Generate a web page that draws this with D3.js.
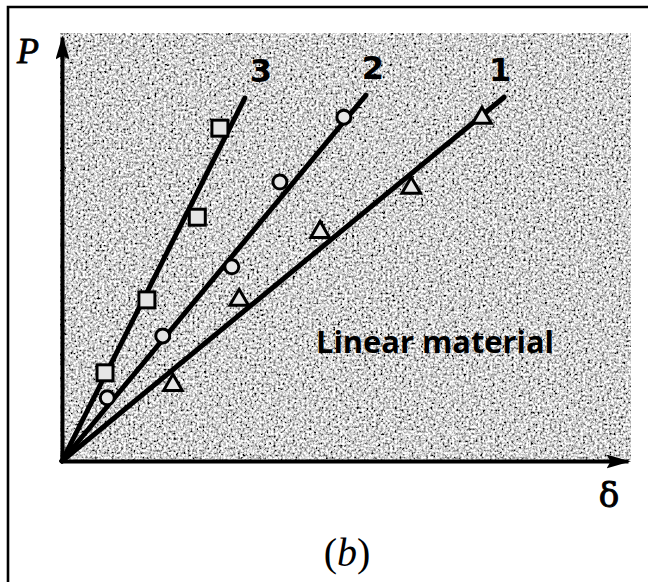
<!DOCTYPE html>
<html>
<head>
<meta charset="utf-8">
<script src="https://cdn.jsdelivr.net/npm/d3@7"></script>
<style>
  html, body { margin: 0; padding: 0; background: #fff; }
  svg { display: block; }
</style>
</head>
<body>
<svg id="chart" width="648" height="582"></svg>
<script>
// Values (delta / P in arbitrary units, 0..10)
var seriesNames = ['1', '2', '3'];

var tri1Delta = [1.96, 3.13, 4.56, 6.17, 7.42];
var tri1P = [1.79, 3.80, 5.40, 6.44, 8.09];

var circ2Delta = [0.80, 1.78, 3.00, 3.85, 4.98];
var circ2P = [1.49, 2.95, 4.58, 6.58, 8.11];

var sq3Delta = [0.76, 1.50, 2.39, 2.79];
var sq3P = [2.08, 3.80, 5.75, 7.85];

// fitted straight lines, drawn from the origin to these ends
var lineEndDelta = [7.81, 5.37, 3.23];
var lineEndP = [8.58, 8.63, 8.56];

var svg = d3.select('#chart');

var x = d3.scaleLinear().domain([0, 10]).range([62, 628]);
var y = d3.scaleLinear().domain([0, 10]).range([461, 37]);

var defs = svg.append('defs');

// speckled grey background like the scanned screen tone
var grain = defs.append('filter')
  .attr('id', 'grain')
  .attr('x', 0).attr('y', 0).attr('width', '100%').attr('height', '100%');
grain.append('feTurbulence')
  .attr('type', 'fractalNoise')
  .attr('baseFrequency', 0.42)
  .attr('numOctaves', 2)
  .attr('seed', 7);
grain.append('feColorMatrix').attr('type', 'saturate').attr('values', 0);
var ct = grain.append('feComponentTransfer');
['feFuncR', 'feFuncG', 'feFuncB'].forEach(function(f) {
  ct.append(f).attr('type', 'linear').attr('slope', 3.2).attr('intercept', -0.95);
});
ct.append('feFuncA').attr('type', 'linear').attr('slope', 0).attr('intercept', 1);

// thin solid arrowhead, sized in user units
defs.append('marker')
  .attr('id', 'arrow')
  .attr('viewBox', '0 0 24 14')
  .attr('refX', 22).attr('refY', 7)
  .attr('markerWidth', 24).attr('markerHeight', 14)
  .attr('markerUnits', 'userSpaceOnUse')
  .attr('orient', 'auto')
  .append('path')
  .attr('d', 'M0,0 L24,7 L0,14 L4,7 Z')
  .attr('fill', '#000');

// frame (left and top edges visible)
svg.append('path')
  .attr('d', 'M8,582 V7 H648')
  .attr('fill', 'none')
  .attr('stroke', '#000')
  .attr('stroke-width', 2.6);

// stippled plot area
svg.append('rect')
  .attr('x', x(0) - 2)
  .attr('y', y(0) - 428)
  .attr('width', 571)
  .attr('height', 429)
  .attr('filter', 'url(#grain)');

// axes with no ticks, arrow at the end
var xAxis = svg.append('g')
  .attr('transform', 'translate(0,' + y(0) + ')')
  .call(d3.axisBottom(x).ticks(0).tickSizeOuter(0));
var yAxis = svg.append('g')
  .attr('transform', 'translate(' + x(0) + ',0)')
  .call(d3.axisLeft(y).ticks(0).tickSizeOuter(0));

[xAxis, yAxis].forEach(function(ax) {
  ax.select('.domain')
    .attr('stroke', '#000')
    .attr('stroke-width', 4)
    .attr('marker-end', 'url(#arrow)');
});

// straight lines from origin
var lineGen = d3.line().x(d => x(d[0])).y(d => y(d[1]));
seriesNames.forEach(function(name, i) {
  svg.append('path')
    .attr('d', lineGen([[0, 0], [lineEndDelta[i], lineEndP[i]]]))
    .attr('fill', 'none')
    .attr('stroke', '#000')
    .attr('stroke-width', 5)
    .attr('stroke-linecap', 'round');
});

// series labels above line ends
var labelDx = [-4, 7, 16];
seriesNames.forEach(function(name, i) {
  svg.append('text')
    .attr('x', x(lineEndDelta[i]) + labelDx[i])
    .attr('y', y(lineEndP[i]) - 16)
    .attr('text-anchor', 'middle')
    .attr('font-family', 'DejaVu Sans, sans-serif')
    .attr('font-weight', 'bold')
    .attr('font-size', 32)
    .attr('fill', '#000')
    .text(name);
});

var markerStyle = function(sel) {
  sel.attr('fill', '#e6e6e6').attr('stroke', '#000').attr('stroke-width', 3);
};

// triangles, series 1
svg.append('g').selectAll('path')
  .data(d3.zip(tri1Delta, tri1P))
  .enter()
  .append('path')
  .attr('d', d3.symbol().type(d3.symbolTriangle).size(150))
  .attr('transform', d => 'translate(' + x(d[0]) + ',' + y(d[1]) + ')')
  .call(markerStyle);

// circles, series 2
svg.append('g').selectAll('circle')
  .data(d3.zip(circ2Delta, circ2P))
  .enter()
  .append('circle')
  .attr('cx', d => x(d[0]))
  .attr('cy', d => y(d[1]))
  .attr('r', 7)
  .call(markerStyle);

// squares, series 3
svg.append('g').selectAll('rect')
  .data(d3.zip(sq3Delta, sq3P))
  .enter()
  .append('rect')
  .attr('x', d => x(d[0]) - 8)
  .attr('y', d => y(d[1]) - 8)
  .attr('width', 16)
  .attr('height', 16)
  .call(markerStyle);

// annotation
svg.append('text')
  .attr('x', 316)
  .attr('y', 353)
  .attr('textLength', 238)
  .attr('lengthAdjust', 'spacingAndGlyphs')
  .attr('font-family', 'Open Sans, sans-serif')
  .attr('font-weight', 'bold')
  .attr('font-size', 31)
  .attr('fill', '#000')
  .text('Linear material');

// axis names
svg.append('text')
  .attr('x', 17)
  .attr('y', 63)
  .attr('font-family', 'Liberation Serif, serif')
  .attr('font-style', 'italic')
  .attr('font-size', 36)
  .attr('stroke', '#000')
  .attr('stroke-width', 0.8)
  .text('P');

svg.append('text')
  .attr('x', 609)
  .attr('y', 507)
  .attr('text-anchor', 'middle')
  .attr('font-family', 'DejaVu Serif, serif')
  .attr('font-size', 34)
  .attr('stroke', '#000')
  .attr('stroke-width', 1)
  .text('δ');

var cap = svg.append('text')
  .attr('x', 347)
  .attr('y', 566)
  .attr('text-anchor', 'middle')
  .attr('font-family', 'Liberation Serif, serif')
  .attr('font-size', 40);
cap.append('tspan').text('(');
cap.append('tspan').attr('font-style', 'italic').text('b');
cap.append('tspan').text(')');
</script>
</body>
</html>
